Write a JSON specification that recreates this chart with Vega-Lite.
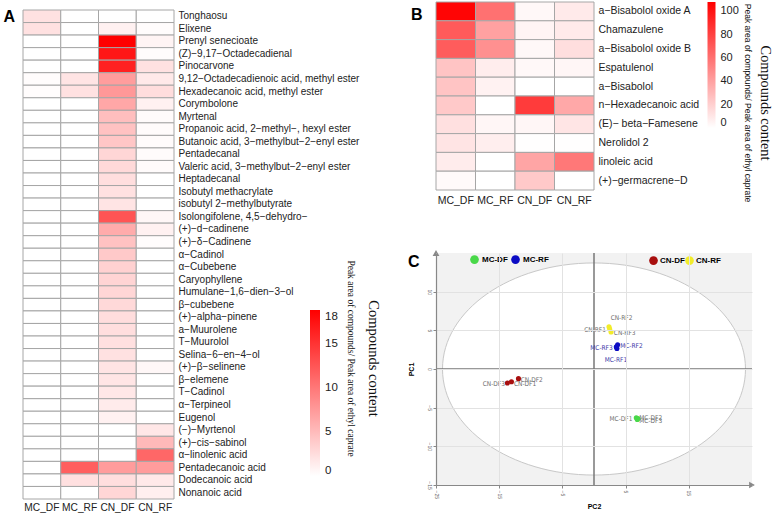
{
  "$schema": "https://vega.github.io/schema/vega-lite/v6.json",
  "padding": {"left": 3, "top": 1, "right": 0, "bottom": 0},
  "background": "#ffffff",
  "config": {
    "view": {"stroke": null},
    "font": "Liberation Sans",
    "axis": {"labelFont": "Liberation Sans", "titleFont": "Liberation Sans"},
    "legend": {"labelFont": "Liberation Sans"},
    "title": {"font": "Liberation Sans"}
  },
  "datasets": {
    "heatA": [
      {"compound": "Tonghaosu", "MC_DF": 2.2, "MC_RF": 0, "CN_DF": 0, "CN_RF": 0},
      {"compound": "Elixene", "MC_DF": 2.2, "MC_RF": 0, "CN_DF": 1.0, "CN_RF": 0.2},
      {"compound": "Prenyl senecioate", "MC_DF": 0, "MC_RF": 0, "CN_DF": 18.8, "CN_RF": 0.8},
      {"compound": "(Z)−9,17−Octadecadienal", "MC_DF": 0, "MC_RF": 0, "CN_DF": 17.2, "CN_RF": 0.2},
      {"compound": "Pinocarvone", "MC_DF": 0, "MC_RF": 0, "CN_DF": 16.4, "CN_RF": 2.2},
      {"compound": "9,12−Octadecadienoic acid, methyl ester", "MC_DF": 0.2, "MC_RF": 2.0, "CN_DF": 7.2, "CN_RF": 1.6},
      {"compound": "Hexadecanoic acid, methyl ester", "MC_DF": 0.2, "MC_RF": 2.2, "CN_DF": 7.6, "CN_RF": 2.5},
      {"compound": "Corymbolone", "MC_DF": 0, "MC_RF": 0, "CN_DF": 6.5, "CN_RF": 1.0},
      {"compound": "Myrtenal", "MC_DF": 0, "MC_RF": 0, "CN_DF": 4.8, "CN_RF": 0.3},
      {"compound": "Propanoic acid, 2−methyl−, hexyl ester", "MC_DF": 0, "MC_RF": 0, "CN_DF": 4.5, "CN_RF": 0.3},
      {"compound": "Butanoic acid, 3−methylbut−2−enyl ester", "MC_DF": 0, "MC_RF": 0, "CN_DF": 4.2, "CN_RF": 0.3},
      {"compound": "Pentadecanal", "MC_DF": 0, "MC_RF": 0, "CN_DF": 3.0, "CN_RF": 0.3},
      {"compound": "Valeric acid, 3−methylbut−2−enyl ester", "MC_DF": 0, "MC_RF": 0, "CN_DF": 2.8, "CN_RF": 0.3},
      {"compound": "Heptadecanal", "MC_DF": 0, "MC_RF": 0, "CN_DF": 2.4, "CN_RF": 0},
      {"compound": "Isobutyl methacrylate", "MC_DF": 0, "MC_RF": 0, "CN_DF": 2.2, "CN_RF": 0},
      {"compound": "isobutyl 2−methylbutyrate", "MC_DF": 0, "MC_RF": 0, "CN_DF": 2.0, "CN_RF": 0},
      {"compound": "Isolongifolene, 4,5−dehydro−", "MC_DF": 0, "MC_RF": 0, "CN_DF": 12.6, "CN_RF": 0.6},
      {"compound": "(+)−d−cadinene", "MC_DF": 0, "MC_RF": 0, "CN_DF": 6.2, "CN_RF": 1.0},
      {"compound": "(+)−δ−Cadinene", "MC_DF": 0, "MC_RF": 0, "CN_DF": 4.5, "CN_RF": 0.2},
      {"compound": "α−Cadinol", "MC_DF": 0, "MC_RF": 0, "CN_DF": 4.0, "CN_RF": 0},
      {"compound": "α−Cubebene", "MC_DF": 0, "MC_RF": 0, "CN_DF": 3.4, "CN_RF": 0},
      {"compound": "Caryophyllene", "MC_DF": 0, "MC_RF": 0, "CN_DF": 3.2, "CN_RF": 0},
      {"compound": "Humulane−1,6−dien−3−ol", "MC_DF": 0, "MC_RF": 0, "CN_DF": 3.0, "CN_RF": 0},
      {"compound": "β−cubebene", "MC_DF": 0, "MC_RF": 0, "CN_DF": 2.8, "CN_RF": 0},
      {"compound": "(+)−alpha−pinene", "MC_DF": 0, "MC_RF": 0, "CN_DF": 2.5, "CN_RF": 0},
      {"compound": "a−Muurolene", "MC_DF": 0, "MC_RF": 0, "CN_DF": 2.4, "CN_RF": 0},
      {"compound": "T−Muurolol", "MC_DF": 0, "MC_RF": 0, "CN_DF": 2.3, "CN_RF": 0},
      {"compound": "Selina−6−en−4−ol", "MC_DF": 0, "MC_RF": 0, "CN_DF": 2.2, "CN_RF": 0},
      {"compound": "(+)−β−selinene", "MC_DF": 0, "MC_RF": 0, "CN_DF": 2.0, "CN_RF": 0.6},
      {"compound": "β−elemene", "MC_DF": 0, "MC_RF": 0, "CN_DF": 1.9, "CN_RF": 0},
      {"compound": "T−Cadinol", "MC_DF": 0, "MC_RF": 0, "CN_DF": 1.8, "CN_RF": 0},
      {"compound": "α−Terpineol", "MC_DF": 0, "MC_RF": 0, "CN_DF": 1.5, "CN_RF": 0},
      {"compound": "Eugenol", "MC_DF": 0, "MC_RF": 0, "CN_DF": 1.0, "CN_RF": 0},
      {"compound": "(−)−Myrtenol", "MC_DF": 0, "MC_RF": 0, "CN_DF": 0, "CN_RF": 1.8},
      {"compound": "(+)−cis−sabinol", "MC_DF": 0, "MC_RF": 0, "CN_DF": 0, "CN_RF": 5.2},
      {"compound": "α−linolenic acid", "MC_DF": 0, "MC_RF": 0, "CN_DF": 0, "CN_RF": 11.2},
      {"compound": "Pentadecanoic acid", "MC_DF": 0, "MC_RF": 11.8, "CN_DF": 7.3, "CN_RF": 7.3},
      {"compound": "Dodecanoic acid", "MC_DF": 0, "MC_RF": 2.3, "CN_DF": 2.4, "CN_RF": 1.6},
      {"compound": "Nonanoic acid", "MC_DF": 0, "MC_RF": 0, "CN_DF": 3.0, "CN_RF": 1.2}
    ],
    "heatB": [
      {"compound": "a−Bisabolol oxide A", "MC_DF": 106, "MC_RF": 60, "CN_DF": 3, "CN_RF": 9},
      {"compound": "Chamazulene", "MC_DF": 70, "MC_RF": 40, "CN_DF": 4.5, "CN_RF": 9},
      {"compound": "a−Bisabolol oxide B", "MC_DF": 69, "MC_RF": 47, "CN_DF": 3, "CN_RF": 14},
      {"compound": "Espatulenol", "MC_DF": 25, "MC_RF": 7.5, "CN_DF": 3, "CN_RF": 4},
      {"compound": "a−Bisabolol", "MC_DF": 25, "MC_RF": 5.5, "CN_DF": 0, "CN_RF": 0},
      {"compound": "n−Hexadecanoic acid", "MC_DF": 23, "MC_RF": 0, "CN_DF": 83, "CN_RF": 37},
      {"compound": "(E)− beta−Famesene", "MC_DF": 13, "MC_RF": 4, "CN_DF": 4, "CN_RF": 11},
      {"compound": "Nerolidol 2", "MC_DF": 11.5, "MC_RF": 7, "CN_DF": 0.5, "CN_RF": 0.5},
      {"compound": "linoleic acid", "MC_DF": 8, "MC_RF": 0, "CN_DF": 38, "CN_RF": 57},
      {"compound": "(+)−germacrene−D", "MC_DF": 2, "MC_RF": 0, "CN_DF": 23, "CN_RF": 0}
    ],
    "pca": [
      {"id": "CN-DF1", "group": "CN-DF", "x": -13.06, "y": -1.64, "lx": -10.9, "ly": -1.9},
      {"id": "CN-DF2", "group": "CN-DF", "x": -11.95, "y": -1.25, "lx": -9.85, "ly": -1.38},
      {"id": "CN-DF3", "group": "CN-DF", "x": -13.7, "y": -1.82, "lx": -15.85, "ly": -1.9},
      {"id": "CN-RF1", "group": "CN-RF", "x": 2.37, "y": 5.45, "lx": 0.16, "ly": 5.1},
      {"id": "CN-RF2", "group": "CN-RF", "x": 2.47, "y": 5.2, "lx": 4.35, "ly": 6.55},
      {"id": "CN-RF3", "group": "CN-RF", "x": 2.69, "y": 4.8, "lx": 4.85, "ly": 4.7},
      {"id": "MC-RF1", "group": "MC-RF", "x": 3.63, "y": 2.65, "lx": 3.47, "ly": 1.17},
      {"id": "MC-RF2", "group": "MC-RF", "x": 3.74, "y": 3.12, "lx": 5.92, "ly": 3.0},
      {"id": "MC-RF3", "group": "MC-RF", "x": 3.53, "y": 2.86, "lx": 1.18, "ly": 2.73},
      {"id": "MC-DF1", "group": "MC-DF", "x": 6.69, "y": -6.32, "lx": 4.27, "ly": -6.53},
      {"id": "MC-DF2", "group": "MC-DF", "x": 6.95, "y": -6.4, "lx": 8.97, "ly": -6.3},
      {"id": "MC-DF3", "group": "MC-DF", "x": 6.85, "y": -6.53, "lx": 8.97, "ly": -6.66}
    ]
  },
  "resolve": {"scale": {"color": "independent"}, "legend": {"color": "independent"}},
  "spacing": 26,
  "hconcat": [
    {
      "title": {"text": "A", "anchor": "start", "fontSize": 16, "fontWeight": "bold", "offset": -23.2, "dx": -19, "color": "#000000"},
      "vconcat": [
        {
          "width": 151,
          "height": 497,
          "data": {"name": "heatA"},
          "transform": [{"fold": ["MC_DF", "MC_RF", "CN_DF", "CN_RF"], "as": ["sample", "value"]}],
          "title": {
            "text": "Compounds content",
            "subtitle": "Peak area of compounds/ Peak area of ethyl caprate",
            "orient": "right", "anchor": "middle", "frame": "group",
            "font": "Liberation Serif", "fontSize": 14.5, "fontWeight": "normal", "color": "#111111",
            "subtitleFont": "Liberation Serif", "subtitleFontSize": 9.5, "subtitleColor": "#111111",
            "subtitlePadding": 9, "offset": -13, "dx": 108
          },
          "mark": {"type": "rect", "stroke": "#a6a6a6", "strokeWidth": 1},
          "encoding": {
            "x": {"field": "sample", "type": "nominal", "sort": ["MC_DF", "MC_RF", "CN_DF", "CN_RF"],
                  "axis": {"title": null, "labelAngle": 0, "domain": false, "ticks": false, "labelPadding": 3.5, "labelFontSize": 10.2, "labelColor": "#222222"}},
            "y": {"field": "compound", "type": "nominal", "sort": null,
                  "scale": {"range": [8, 497]},
                  "axis": {"orient": "right", "title": null, "domain": false, "ticks": false, "labelPadding": 4, "labelFontSize": 10, "labelColor": "#222222", "labelLimit": 400}},
            "color": {"field": "value", "type": "quantitative",
                      "scale": {"domain": [0, 18.83], "range": ["#ffffff", "#ff0000"], "interpolate": "rgb"},
                      "legend": {"orient": "none", "legendX": 287, "legendY": 308, "direction": "vertical", "gradientLength": 166, "gradientThickness": 10, "title": null, "values": [0, 5, 10, 15, 18], "labelFontSize": 11.5, "labelOffset": 5, "padding": 0, "gradientStrokeWidth": 0, "labelColor": "#222222"}}
          }
        }
      ]
    },
    {
      "spacing": 44,
      "resolve": {"scale": {"color": "independent"}, "legend": {"color": "independent"}},
      "vconcat": [
        {
          "title": {"text": "B", "anchor": "start", "fontSize": 16, "fontWeight": "bold", "offset": -21, "dx": -24.5, "color": "#000000"},
          "vconcat": [
            {
              "width": 158,
              "height": 188,
              "data": {"name": "heatB"},
              "transform": [{"fold": ["MC_DF", "MC_RF", "CN_DF", "CN_RF"], "as": ["sample", "value"]}],
              "title": {
                "text": "Compounds content",
                "subtitle": "Peak area of compounds/ Peak area of ethyl caprate",
                "orient": "right", "anchor": "middle", "frame": "group",
                "font": "Liberation Serif", "fontSize": 14.3, "fontWeight": "normal", "color": "#111111",
                "subtitleFont": "Liberation Sans", "subtitleFontSize": 8.5, "subtitleColor": "#111111",
                "subtitlePadding": 5.5, "offset": 45, "dx": 7
              },
              "mark": {"type": "rect", "stroke": "#a6a6a6", "strokeWidth": 1},
              "encoding": {
                "x": {"field": "sample", "type": "nominal", "sort": ["MC_DF", "MC_RF", "CN_DF", "CN_RF"],
                      "axis": {"title": null, "labelAngle": 0, "domain": false, "ticks": false, "labelPadding": 5, "labelFontSize": 10.5, "labelColor": "#222222"}},
                "y": {"field": "compound", "type": "nominal", "sort": null,
                      "axis": {"orient": "right", "title": null, "domain": false, "ticks": false, "labelPadding": 4, "labelFontSize": 10.5, "labelColor": "#222222", "labelLimit": 400}},
                "color": {"field": "value", "type": "quantitative",
                          "scale": {"domain": [0, 108], "range": ["#ffffff", "#ff0000"], "interpolate": "rgb"},
                          "legend": {"orient": "none", "legendX": 271.5, "legendY": 0, "direction": "vertical", "gradientLength": 126, "gradientThickness": 8, "title": null, "values": [0, 20, 40, 60, 80, 100], "labelFontSize": 11, "labelOffset": 5, "padding": 0, "gradientStrokeWidth": 0, "labelColor": "#222222"}}
              }
            }
          ]
        },
        {
          "width": 316,
          "height": 232,
          "title": {"text": "C", "anchor": "start", "fontSize": 16, "fontWeight": "bold", "offset": -20, "dx": 1, "color": "#000000"},
          "view": {"fill": "#f2f2f2", "stroke": null},
          "resolve": {"scale": {"color": "independent"}, "legend": {"color": "independent"}},
          "layer": [
            {
              "data": {"values": [{"x": 0, "y": 0}]},
              "mark": {"type": "point", "shape": "M-1,0A1,0.7,0,1,0,1,0A1,0.7,0,1,0,-1,0Z", "size": 91809, "filled": true, "fill": "#ffffff", "stroke": "#c8c8c8", "strokeWidth": 1, "opacity": 1},
              "encoding": {
                "x": {"field": "x", "type": "quantitative", "title": "PC2",
                      "scale": {"domain": [-25, 25], "nice": false, "zero": false},
                      "axis": {"values": [-25, -22.5, -20, -17.5, -15, -12.5, -10, -7.5, -5, -2.5, 0, 2.5, 5, 7.5, 10, 12.5, 15, 17.5, 20, 22.5],
                               "labelExpr": "datum.value % 5 === 0 ? datum.label : ''",
                               "labelAngle": 90, "labelFontSize": 5, "labelColor": "#666666", "labelPadding": 2,
                               "tickSize": 3, "tickColor": "#888888", "domainColor": "#888888", "domainWidth": 1.2,
                               "grid": true, "gridColor": "#e2e2e2",
                               "gridOpacity": {"condition": {"test": "datum.value % 5 !== 0", "value": 0}, "value": 1},
                               "titleFontSize": 7, "titleFontWeight": "bold", "titlePadding": 4, "titleColor": "#000000", "zindex": 1}},
                "y": {"field": "y", "type": "quantitative", "title": "PC1",
                      "scale": {"domain": [-15, 15], "nice": false, "zero": false},
                      "axis": {"values": [-15, -12.5, -10, -7.5, -5, -2.5, 0, 2.5, 5, 7.5, 10, 12.5],
                               "labelExpr": "datum.value % 5 === 0 ? datum.label : ''",
                               "labelAngle": 90, "labelFontSize": 5, "labelColor": "#666666", "labelPadding": 2,
                               "tickSize": 3, "tickColor": "#888888", "domainColor": "#888888", "domainWidth": 1.2,
                               "grid": true, "gridColor": "#e2e2e2",
                               "gridOpacity": {"condition": {"test": "datum.value % 5 !== 0", "value": 0}, "value": 1},
                               "titleFontSize": 7, "titleFontWeight": "bold", "titlePadding": 12, "titleColor": "#000000", "zindex": 1}}
              }
            },
            {
              "data": {"values": [{"x": 0}]},
              "mark": {"type": "rule", "color": "#777777", "strokeWidth": 1.5},
              "encoding": {"x": {"field": "x", "type": "quantitative", "title": "PC2"}}
            },
            {
              "data": {"values": [{"y": 0}]},
              "mark": {"type": "rule", "color": "#777777", "strokeWidth": 1.5},
              "encoding": {"y": {"field": "y", "type": "quantitative", "title": "PC1"}}
            },
            {
              "data": {"values": [{"x": 25, "y": -15}]},
              "mark": {"type": "point", "shape": "triangle-right", "size": 45, "filled": true, "color": "#888888", "opacity": 1},
              "encoding": {"x": {"field": "x", "type": "quantitative", "title": "PC2"}, "y": {"field": "y", "type": "quantitative", "title": "PC1"}}
            },
            {
              "data": {"values": [{"x": -25, "y": 15}]},
              "mark": {"type": "point", "shape": "triangle-up", "size": 45, "filled": true, "color": "#888888", "opacity": 1},
              "encoding": {"x": {"field": "x", "type": "quantitative", "title": "PC2"}, "y": {"field": "y", "type": "quantitative", "title": "PC1"}}
            },
            {
              "data": {"name": "pca"},
              "transform": [{"filter": "datum.group !== 'MC-RF'"}],
              "mark": {"type": "text", "font": "DejaVu Sans Condensed, Liberation Sans", "fontSize": 6.5, "color": "#6e6e6e"},
              "encoding": {"x": {"field": "lx", "type": "quantitative", "title": "PC2"}, "y": {"field": "ly", "type": "quantitative", "title": "PC1"}, "text": {"field": "id"}}
            },
            {
              "data": {"name": "pca"},
              "transform": [{"filter": "datum.group === 'MC-RF'"}],
              "mark": {"type": "text", "font": "DejaVu Sans Condensed, Liberation Sans", "fontSize": 6.5, "color": "#3a3aa8"},
              "encoding": {"x": {"field": "lx", "type": "quantitative", "title": "PC2"}, "y": {"field": "ly", "type": "quantitative", "title": "PC1"}, "text": {"field": "id"}}
            },
            {
              "data": {"name": "pca"},
              "transform": [{"filter": "datum.group === 'MC-DF' || datum.group === 'MC-RF'"}],
              "mark": {"type": "point", "filled": true, "size": 26, "opacity": 1},
              "encoding": {
                "x": {"field": "x", "type": "quantitative", "title": "PC2"},
                "y": {"field": "y", "type": "quantitative", "title": "PC1"},
                "color": {"field": "group", "type": "nominal",
                          "scale": {"domain": ["MC-DF", "MC-RF"], "range": ["#49d849", "#0c0cc4"]},
                          "legend": {"orient": "none", "legendX": 34, "legendY": 2, "direction": "horizontal", "title": null, "labelFontSize": 8, "labelFontWeight": "bold", "labelColor": "#000000", "symbolType": "circle", "symbolSize": 75, "symbolStrokeWidth": 0, "labelOffset": 3, "columnPadding": 3, "padding": 0}}
              }
            },
            {
              "data": {"name": "pca"},
              "transform": [{"filter": "datum.group === 'CN-DF' || datum.group === 'CN-RF'"}],
              "mark": {"type": "point", "filled": true, "size": 26, "opacity": 1},
              "encoding": {
                "x": {"field": "x", "type": "quantitative", "title": "PC2"},
                "y": {"field": "y", "type": "quantitative", "title": "PC1"},
                "color": {"field": "group", "type": "nominal",
                          "scale": {"domain": ["CN-DF", "CN-RF"], "range": ["#a80f0f", "#f2ec2a"]},
                          "legend": {"orient": "none", "legendX": 213, "legendY": 3, "direction": "horizontal", "title": null, "labelFontSize": 8, "labelFontWeight": "bold", "labelColor": "#000000", "symbolType": "circle", "symbolSize": 75, "symbolStrokeWidth": 0, "labelOffset": 2, "columnPadding": 0, "padding": 0}}
              }
            }
          ]
        }
      ]
    }
  ]
}
